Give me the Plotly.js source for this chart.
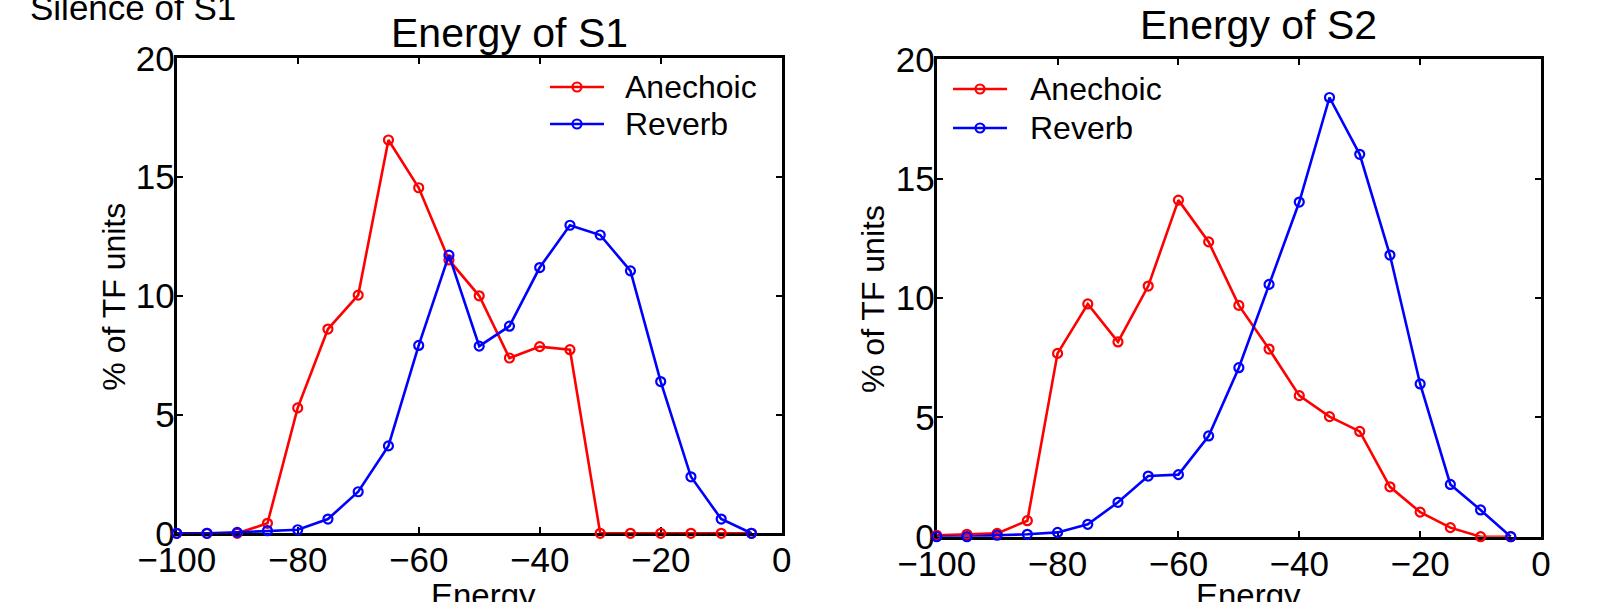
<!DOCTYPE html>
<html>
<head>
<meta charset="utf-8">
<script src="https://cdn.plot.ly/plotly-3.0.1.min.js"></script>
<style>
  html, body { margin: 0; padding: 0; background: #fff; }
  #chart { width: 1620px; height: 602px; }
</style>
</head>
<body>
<div id="chart"></div>
<script>
// Energy bins (dB) shared by both panels
const energyBins = [-100, -95, -90, -85, -80, -75, -70, -65, -60, -55,
                    -50, -45, -40, -35, -30, -25, -20, -15, -10, -5];

// % of TF units per energy bin, source S1
const s1Anechoic = [0, 0, 0, 0.42, 5.28, 8.6, 10.03, 16.56, 14.55, 11.51,
                    10.0, 7.38, 7.86, 7.73, 0, 0, 0, 0, 0, 0];
const s1Reverb   = [0, 0, 0.04, 0.11, 0.15, 0.6, 1.75, 3.68, 7.91, 11.71,
                    7.88, 8.72, 11.19, 12.97, 12.56, 11.05, 6.39, 2.38, 0.6, 0];

// % of TF units per energy bin, source S2
const s2Anechoic = [0.06, 0.1, 0.14, 0.67, 7.68, 9.75, 8.16, 10.5, 14.1, 12.35,
                    9.69, 7.86, 5.91, 5.03, 4.41, 2.09, 1.03, 0.38, 0, 0];
const s2Reverb   = [0, 0, 0.06, 0.1, 0.18, 0.52, 1.44, 2.54, 2.6, 4.22,
                    7.08, 10.57, 14.02, 18.4, 16.02, 11.8, 6.4, 2.19, 1.12, 0];

const seriesNames = ['Anechoic', 'Reverb'];
const panelTitles = ['Energy of S1', 'Energy of S2'];
const xTicks = [-100, -80, -60, -40, -20, 0];
const yTicks = [0, 5, 10, 15, 20];

const FONT = 'Liberation Sans, Arial, Helvetica, sans-serif';
const W = 1620, H = 602;
const RED = '#ff0000', BLUE = '#0000ff';
const colors = [RED, BLUE];

// pixel -> paper helpers (margins are zero, so paper == page)
const px = v => v / W;
const py = v => 1 - v / H;

function series(x, y, name, color, xa, ya) {
  return {
    type: 'scatter', mode: 'lines+markers',
    x: x, y: y, name: name,
    xaxis: xa, yaxis: ya,
    showlegend: false,
    cliponaxis: false,
    line: { color: color, width: 2.6 },
    marker: { symbol: 'circle-open', size: 9, color: color, line: { width: 2.2, color: color } },
    hoverinfo: 'x+y+name'
  };
}

const traces = [
  series(energyBins, s1Anechoic, seriesNames[0], RED,  'x',  'y'),
  series(energyBins, s1Reverb,   seriesNames[1], BLUE, 'x',  'y'),
  series(energyBins, s2Anechoic, seriesNames[0], RED,  'x2', 'y2'),
  series(energyBins, s2Reverb,   seriesNames[1], BLUE, 'x2', 'y2')
];

function xAxis(domain, anchor) {
  return {
    domain: domain, anchor: anchor,
    range: [-100, 0], tickvals: xTicks,
    showgrid: false, zeroline: false,
    showline: true, mirror: 'ticks', linecolor: '#000', linewidth: 3,
    ticks: 'inside', ticklen: 6, tickwidth: 2, tickcolor: '#000',
    layer: 'below traces',
    ticklabelstandoff: -6,
    tickfont: { family: FONT, size: 35, color: '#000' }
  };
}
function yAxis(domain, anchor) {
  return {
    domain: domain, anchor: anchor,
    range: [0, 20], tickvals: yTicks,
    showgrid: false, zeroline: false,
    showline: true, mirror: 'ticks', linecolor: '#000', linewidth: 3,
    ticks: 'inside', ticklen: 6, tickwidth: 2, tickcolor: '#000',
    layer: 'below traces',
    ticklabelstandoff: -8,
    tickfont: { family: FONT, size: 35, color: '#000' }
  };
}

// Panel frames in page pixels
const panels = [
  { left: 176.7, right: 781.7, top: 58.3, bottom: 533.3,
    titleX: 509, titleBottom: 58.3, xTitleX: 483.5, yTitleX: 113.7, yTitleY: 297,
    legend: { lineX0: 550, lineX1: 604, textX: 623, rows: [87, 124] } },
  { left: 936.7, right: 1541, top: 59.3, bottom: 536.7,
    titleX: 1258, titleBottom: 49.7, xTitleX: 1248, yTitleX: 873, yTitleY: 299,
    legend: { lineX0: 953, lineX1: 1007, textX: 1028, rows: [89, 128] } }
];

const annotations = [
  { text: 'Silence of S1', xref: 'paper', yref: 'paper',
    x: px(28), y: py(29), xanchor: 'left', yanchor: 'bottom',
    showarrow: false, font: { family: FONT, size: 35, color: '#000' } }
];
const shapes = [];

panels.forEach((p, i) => {
  annotations.push(
    { text: panelTitles[i], xref: 'paper', yref: 'paper',
      x: px(p.titleX), y: py(p.titleBottom), xanchor: 'center', yanchor: 'bottom',
      showarrow: false, font: { family: FONT, size: 41, color: '#000' } },
    { text: 'Energy', xref: 'paper', yref: 'paper',
      x: px(p.xTitleX), y: py(575), xanchor: 'center', yanchor: 'top',
      showarrow: false, font: { family: FONT, size: 33, color: '#000' } },
    { text: '% of TF units', xref: 'paper', yref: 'paper', textangle: -90,
      x: px(p.yTitleX), y: py(p.yTitleY), xanchor: 'center', yanchor: 'middle',
      showarrow: false, font: { family: FONT, size: 32, color: '#000' } }
  );
  // legend: line swatch with an open circle, then the series name
  p.legend.rows.forEach((rowY, k) => {
    const c = colors[k];
    const cx = (p.legend.lineX0 + p.legend.lineX1) / 2, r = 4.5;
    shapes.push(
      { type: 'line', xref: 'paper', yref: 'paper',
        x0: px(p.legend.lineX0), x1: px(p.legend.lineX1), y0: py(rowY), y1: py(rowY),
        line: { color: c, width: 2.6 } },
      { type: 'circle', xref: 'paper', yref: 'paper',
        x0: px(cx - r), x1: px(cx + r), y0: py(rowY + r), y1: py(rowY - r),
        line: { color: c, width: 2.2 }, fillcolor: 'rgba(0,0,0,0)' }
    );
    annotations.push(
      { text: seriesNames[k], xref: 'paper', yref: 'paper',
        x: px(p.legend.textX), y: py(rowY), xanchor: 'left', yanchor: 'middle',
        showarrow: false, font: { family: FONT, size: 32, color: '#000' } }
    );
  });
});

const layout = {
  width: W, height: H,
  margin: { l: 0, r: 0, t: 0, b: 0 },
  paper_bgcolor: '#fff', plot_bgcolor: '#fff',
  showlegend: false,
  font: { family: FONT, color: '#000' },
  xaxis:  xAxis([px(panels[0].left), px(panels[0].right)], 'y'),
  yaxis:  yAxis([py(panels[0].bottom), py(panels[0].top)], 'x'),
  xaxis2: xAxis([px(panels[1].left), px(panels[1].right)], 'y2'),
  yaxis2: yAxis([py(panels[1].bottom), py(panels[1].top)], 'x2'),
  annotations: annotations,
  shapes: shapes
};

Plotly.newPlot('chart', traces, layout, { displayModeBar: false, staticPlot: true });
</script>
</body>
</html>
